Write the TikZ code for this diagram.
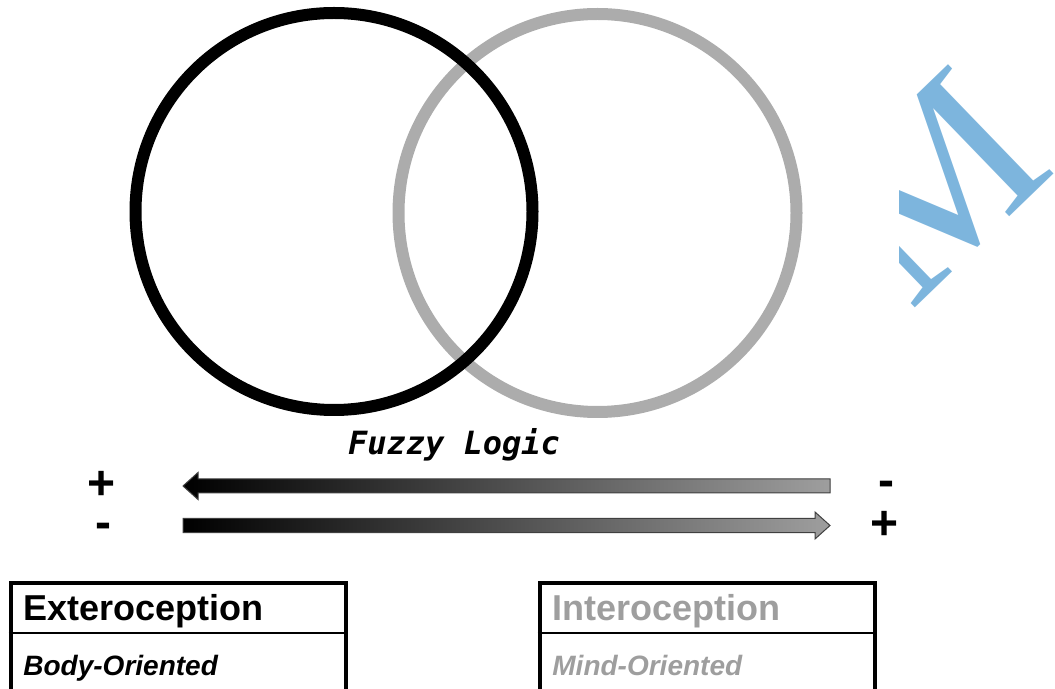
\documentclass[tikz,border=0pt]{standalone}
\usepackage{fontspec}
\setmainfont{Liberation Sans}
\newfontfamily\monofuzzy{DejaVu Sans Mono}
\newfontfamily\serifmark{Liberation Serif}
\usetikzlibrary{positioning}
\definecolor{ringgray}{RGB}{172,172,172}
\definecolor{labelgray}{RGB}{158,158,158}
\definecolor{markblue}{RGB}{125,181,221}
\tikzset{
  ring/.style={line width=6pt},
  sign/.style={inner sep=0pt,font=\fontsize{24}{24}\selectfont\bfseries},
  scalearrow/.style={draw=black!75,line width=.5pt,left color=black,right color=black!38},
  catbox/.style={draw,line width=2.2pt,inner sep=0pt,anchor=north west,
    minimum width=167.75pt,minimum height=62pt},
  cattitle/.style={anchor=base west,inner sep=0pt,font=\fontsize{18}{18}\selectfont\bfseries},
  catsub/.style={anchor=base west,inner sep=0pt,font=\fontsize{14}{14}\selectfont\bfseries\itshape}
}
\begin{document}
\begin{tikzpicture}[x=0.5pt,y=-0.5pt]
\useasboundingbox (0,0) rectangle (1055,689);
\clip (0,0) rectangle (1055,689);

\begin{scope}
\clip (899,0) rectangle (1055,689);
\node[inner sep=0pt,rotate=44,text=markblue,font=\fontsize{116}{116}\serifmark] (mark) at (932,186) {M};
\end{scope}

\draw[ring,ringgray] (597.5,213) circle (199);
\draw[ring] (334,211.5) circle (198.5);

\node[anchor=base,inner sep=0pt,font=\fontsize{16}{16}\monofuzzy\bfseries\itshape] (fuzzy) at (454,455) {Fuzzy Logic};

\coordinate (totip) at (183,486);
\coordinate (fromtip) at (830,525.5);
\shadedraw[scalearrow] (totip) -- ++(15,-13.5) -- ++(0,6.5) -- ++(632,0) -- ++(0,14)
  -- ++(-632,0) -- ++(0,6.5) -- cycle;
\shadedraw[scalearrow] (fromtip) -- ++(-15,-13.5) -- ++(0,6.5) -- ++(-632,0) -- ++(0,14)
  -- ++(632,0) -- ++(0,6.5) -- cycle;

\node[sign] (lplus) at (102,485) {+};
\node[sign] (lminus) at (103,531) {-};
\node[sign] (rminus) at (886,489) {-};
\node[sign] (rplus) at (885,525) {+};

\node[catbox] (extbox) at (8.5,580.5) {};
\coordinate (extdiv) at (8.5,633);
\draw[line width=.7pt] (extdiv) -- (extdiv -| extbox.east);
\node[cattitle] (exttitle) at (23,620) {Exteroception};
\node[catsub] (extsub) at (23,675) {Body-Oriented};

\node[catbox] (intbox) at (537.5,580.5) {};
\coordinate (intdiv) at (537.5,633);
\draw[line width=.7pt] (intdiv) -- (intdiv -| intbox.east);
\node[cattitle,text=labelgray] (inttitle) at (552,620) {Interoception};
\node[catsub,text=labelgray] (intsub) at (552,675) {Mind-Oriented};
\end{tikzpicture}
\end{document}
